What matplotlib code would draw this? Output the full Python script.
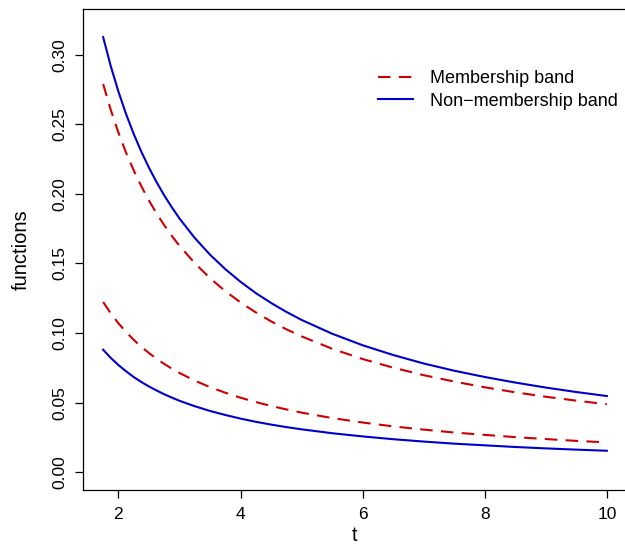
import matplotlib
matplotlib.use("agg")
import matplotlib.pyplot as plt

plt.rcParams["font.family"] = ["Liberation Sans", "DejaVu Sans"]

t = [1.75, 1.875, 2.0, 2.125, 2.25, 2.375, 2.5, 2.625, 2.75, 2.875, 3.0, 3.25, 3.5, 3.75,
     4.0, 4.25, 4.5, 4.75, 5.0, 5.5, 6.0, 6.5, 7.0, 7.5, 8.0, 8.5, 9.0, 9.5, 10.0]

# membership band (red dashed)
mem_upper = [0.2789, 0.2603, 0.244, 0.2296, 0.2169, 0.2055, 0.1952, 0.1859, 0.1775, 0.1697,
             0.1627, 0.1502, 0.1394, 0.1301, 0.122, 0.1148, 0.1084, 0.1027, 0.0976, 0.0887,
             0.0813, 0.0751, 0.0697, 0.0651, 0.061, 0.0574, 0.0542, 0.0514, 0.0488]
mem_lower = [0.1223, 0.1141, 0.107, 0.1007, 0.0951, 0.0901, 0.0856, 0.0815, 0.0778, 0.0744,
             0.0713, 0.0658, 0.0611, 0.0571, 0.0535, 0.0504, 0.0476, 0.0451, 0.0428, 0.0389,
             0.0357, 0.0329, 0.0306, 0.0285, 0.0268, 0.0252, 0.0238, 0.0225, 0.0214]

# non-membership band (blue solid)
non_upper = [0.3126, 0.2917, 0.2735, 0.2574, 0.2431, 0.2303, 0.2188, 0.2084, 0.1989, 0.1903,
             0.1823, 0.1683, 0.1563, 0.1459, 0.1368, 0.1287, 0.1216, 0.1152, 0.1094, 0.0995,
             0.0912, 0.0842, 0.0781, 0.0729, 0.0684, 0.0644, 0.0608, 0.0576, 0.0547]
non_lower = [0.088, 0.0821, 0.077, 0.0725, 0.0684, 0.0648, 0.0616, 0.0587, 0.056, 0.0536,
             0.0513, 0.0474, 0.044, 0.0411, 0.0385, 0.0362, 0.0342, 0.0324, 0.0308, 0.028,
             0.0257, 0.0237, 0.022, 0.0205, 0.0193, 0.0181, 0.0171, 0.0162, 0.0154]

xticks = [2, 4, 6, 8, 10]
yticks = [0.00, 0.05, 0.10, 0.15, 0.20, 0.25, 0.30]

RED = "#CD0000"
BLUE = "#0000CD"

fig = plt.figure(figsize=(6.25, 5.45), dpi=100)
ax = fig.add_axes([83 / 625, 1 - 490 / 545, 544 / 625, 481 / 545])

lw = 1.5
ax.plot(t, mem_upper, color=RED, lw=lw, dashes=(6, 4), label="Membership band")
ax.plot(t, non_upper, color=BLUE, lw=lw, label="Non\u2212membership band")
ax.plot(t, mem_lower, color=RED, lw=lw, dashes=(6, 4))
ax.plot(t, non_lower, color=BLUE, lw=lw)

ax.set_xlim(1.42, 10.33)
ax.set_ylim(-0.0128, 0.3328)
ax.set_xticks(xticks)
ax.set_xticklabels([str(v) for v in xticks])
ax.set_yticks(yticks)
ax.set_yticklabels(["%.2f" % v for v in yticks], rotation=90, va="center")
ax.tick_params(labelsize=12.5, length=6, width=0.9, color="black")
ax.tick_params(axis="x", pad=6)
ax.tick_params(axis="y", pad=5)
for s in ax.spines.values():
    s.set_linewidth(0.9)

ax.set_xlabel("t", fontsize=14.5, labelpad=3)
ax.set_ylabel("functions", fontsize=14.5, labelpad=16)

ax.legend(loc="upper left", bbox_to_anchor=(0.542, 0.873), frameon=False, fontsize=13,
          handlelength=1.95, handletextpad=0.95, labelspacing=0.3, borderaxespad=0,
          borderpad=0)

fig.savefig("out.png", dpi=100)
